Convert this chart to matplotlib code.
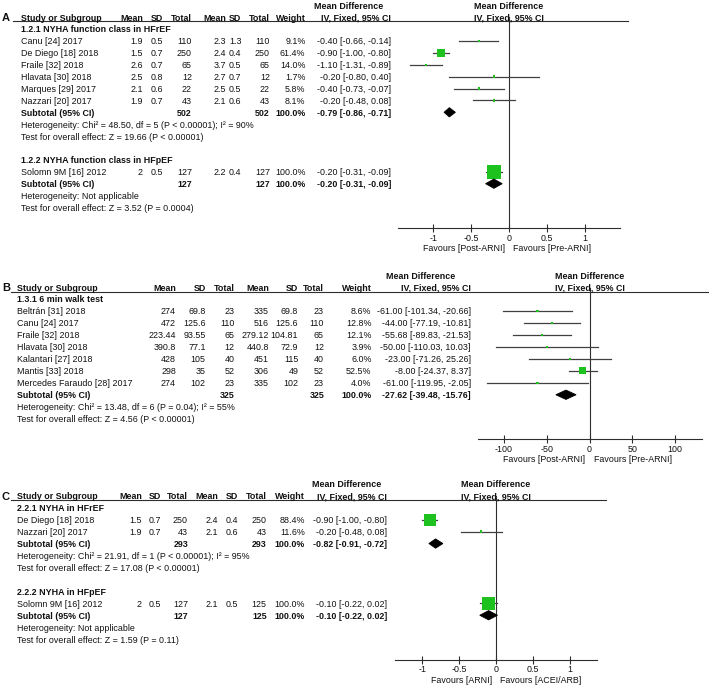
import matplotlib
matplotlib.use('Agg')
import matplotlib.pyplot as plt
from matplotlib.patches import Polygon
from matplotlib.transforms import blended_transform_factory

plt.rcParams['font.family'] = ['Liberation Sans', 'DejaVu Sans']

W, H = 709, 686
FS = 6.4
INK = '#111111'
LINE = '#2e2e2e'
CI_COL = '#404040'
GREEN = '#1ec21e'

# ---- panel A : NYHA class, post vs pre ARNI ----
a1_title = "1.2.1 NYHA function class in HFrEF"
a1_study = ["Canu [24] 2017", "De Diego [18] 2018", "Fraile [32] 2018",
            "Hlavata [30] 2018", "Marques [29] 2017", "Nazzari [20] 2017"]
a1_mean1 = [1.9, 1.5, 2.6, 2.5, 2.1, 1.9]
a1_sd1 = [0.5, 0.7, 0.7, 0.8, 0.6, 0.7]
a1_n1 = [110, 250, 65, 12, 22, 43]
a1_mean2 = [2.3, 2.4, 3.7, 2.7, 2.5, 2.1]
a1_sd2 = [1.3, 0.4, 0.5, 0.7, 0.5, 0.6]
a1_n2 = [110, 250, 65, 12, 22, 43]
a1_weight = [9.1, 61.4, 14.0, 1.7, 5.8, 8.1]
a1_md = [-0.40, -0.90, -1.10, -0.20, -0.40, -0.20]
a1_lo = [-0.66, -1.00, -1.31, -0.80, -0.73, -0.48]
a1_hi = [-0.14, -0.80, -0.89, 0.40, -0.07, 0.08]
a1_total = [-0.79, -0.86, -0.71]
a1_het = "Heterogeneity: Chi² = 48.50, df = 5 (P < 0.00001); I² = 90%"
a1_z = "Test for overall effect: Z = 19.66 (P < 0.00001)"

a2_title = "1.2.2 NYHA function class in HFpEF"
a2_study = ["Solomn 9M [16] 2012"]
a2_mean1 = [2]
a2_sd1 = [0.5]
a2_n1 = [127]
a2_mean2 = [2.2]
a2_sd2 = [0.4]
a2_n2 = [127]
a2_weight = [100.0]
a2_md = [-0.20]
a2_lo = [-0.31]
a2_hi = [-0.09]
a2_total = [-0.20, -0.31, -0.09]
a2_het = "Heterogeneity: Not applicable"
a2_z = "Test for overall effect: Z = 3.52 (P = 0.0004)"

# ---- panel B : 6 min walk test ----
b1_title = "1.3.1 6 min walk test"
b1_study = ["Beltrán [31] 2018", "Canu [24] 2017", "Fraile [32] 2018",
            "Hlavata [30] 2018", "Kalantari [27] 2018", "Mantis [33] 2018",
            "Mercedes Faraudo [28] 2017"]
b1_mean1 = [274, 472, 223.44, 390.8, 428, 298, 274]
b1_sd1 = [69.8, 125.6, 93.55, 77.1, 105, 35, 102]
b1_n1 = [23, 110, 65, 12, 40, 52, 23]
b1_mean2 = [335, 516, 279.12, 440.8, 451, 306, 335]
b1_sd2 = [69.8, 125.6, 104.81, 72.9, 115, 49, 102]
b1_n2 = [23, 110, 65, 12, 40, 52, 23]
b1_weight = [8.6, 12.8, 12.1, 3.9, 6.0, 52.5, 4.0]
b1_md = [-61.00, -44.00, -55.68, -50.00, -23.00, -8.00, -61.00]
b1_lo = [-101.34, -77.19, -89.83, -110.03, -71.26, -24.37, -119.95]
b1_hi = [-20.66, -10.81, -21.53, 10.03, 25.26, 8.37, -2.05]
b1_total = [-27.62, -39.48, -15.76]
b1_het = "Heterogeneity: Chi² = 13.48, df = 6 (P = 0.04); I² = 55%"
b1_z = "Test for overall effect: Z = 4.56 (P < 0.00001)"

# ---- panel C : NYHA, ARNI vs ACEI/ARB ----
c1_title = "2.2.1 NYHA in HFrEF"
c1_study = ["De Diego [18] 2018", "Nazzari [20] 2017"]
c1_mean1 = [1.5, 1.9]
c1_sd1 = [0.7, 0.7]
c1_n1 = [250, 43]
c1_mean2 = [2.4, 2.1]
c1_sd2 = [0.4, 0.6]
c1_n2 = [250, 43]
c1_weight = [88.4, 11.6]
c1_md = [-0.90, -0.20]
c1_lo = [-1.00, -0.48]
c1_hi = [-0.80, 0.08]
c1_total = [-0.82, -0.91, -0.72]
c1_het = "Heterogeneity: Chi² = 21.91, df = 1 (P < 0.00001); I² = 95%"
c1_z = "Test for overall effect: Z = 17.08 (P < 0.00001)"

c2_title = "2.2.2 NYHA in HFpEF"
c2_study = ["Solomn 9M [16] 2012"]
c2_mean1 = [2]
c2_sd1 = [0.5]
c2_n1 = [127]
c2_mean2 = [2.1]
c2_sd2 = [0.5]
c2_n2 = [125]
c2_weight = [100.0]
c2_md = [-0.10]
c2_lo = [-0.22]
c2_hi = [0.02]
c2_total = [-0.10, -0.22, 0.02]
c2_het = "Heterogeneity: Not applicable"
c2_z = "Test for overall effect: Z = 1.59 (P = 0.11)"

headers = ["Mean", "SD", "Total", "Mean", "SD", "Total", "Weight"]


def group(title, study, m1, s1, n1, m2, s2, n2, w, md, lo, hi, total, het, z):
    return dict(title=title, study=study, cols=[m1, s1, n1, m2, s2, n2], w=w,
                md=md, lo=lo, hi=hi, total=total, het=het, z=z)


grp_a = [group(a1_title, a1_study, a1_mean1, a1_sd1, a1_n1, a1_mean2, a1_sd2, a1_n2,
               a1_weight, a1_md, a1_lo, a1_hi, a1_total, a1_het, a1_z),
         group(a2_title, a2_study, a2_mean1, a2_sd1, a2_n1, a2_mean2, a2_sd2, a2_n2,
               a2_weight, a2_md, a2_lo, a2_hi, a2_total, a2_het, a2_z)]
grp_b = [group(b1_title, b1_study, b1_mean1, b1_sd1, b1_n1, b1_mean2, b1_sd2, b1_n2,
               b1_weight, b1_md, b1_lo, b1_hi, b1_total, b1_het, b1_z)]
grp_c = [group(c1_title, c1_study, c1_mean1, c1_sd1, c1_n1, c1_mean2, c1_sd2, c1_n2,
               c1_weight, c1_md, c1_lo, c1_hi, c1_total, c1_het, c1_z),
         group(c2_title, c2_study, c2_mean1, c2_sd1, c2_n1, c2_mean2, c2_sd2, c2_n2,
               c2_weight, c2_md, c2_lo, c2_hi, c2_total, c2_het, c2_z)]

# layout of each panel, in pixels of the 709x686 image
panels = [
    dict(letter='A', groups=grp_a, y0=29, dy=11.9, k_under=-0.68, k_axis=16.75,
         x_name=20.7, cols=[143, 163, 192, 226, 241.5, 270, 305.5], ci_x=391, md_head=349,
         line_x=(13, 628), ax_x=(398, 620), xlim=(-1.47, 1.47), ticks=[-1, -0.5, 0, 0.5, 1],
         fav=("Favours [Post-ARNI]", "Favours [Pre-ARNI]")),
    dict(letter='B', groups=grp_b, y0=299, dy=11.97, k_under=-0.61, k_axis=11.72,
         x_name=17.3, cols=[176, 205.7, 234.3, 269, 298.3, 324, 371.5], ci_x=471, md_head=421,
         line_x=(11, 708), ax_x=(478, 702), xlim=(-130.5, 131.5), ticks=[-100, -50, 0, 50, 100],
         fav=("Favours [Post-ARNI]", "Favours [Pre-ARNI]")),
    dict(letter='C', groups=grp_c, y0=507.7, dy=11.95, k_under=-0.64, k_axis=12.74,
         x_name=17.3, cols=[142, 161, 188, 218, 238, 266.7, 305], ci_x=387, md_head=347,
         line_x=(11, 606), ax_x=(395, 597), xlim=(-1.37, 1.37), ticks=[-1, -0.5, 0, 0.5, 1],
         fav=("Favours [ARNI]", "Favours [ACEI/ARB]")),
]

fig = plt.figure(figsize=(W / 100, H / 100), dpi=100)
tax = fig.add_axes([0, 0, 1, 1])
tax.set_xlim(0, W)
tax.set_ylim(H, 0)
tax.axis('off')


def txt(x, y, s, ha='left', bold=False, size=FS, transform=None):
    tax.text(x, y, s, ha=ha, va='center_baseline', fontsize=size, color=INK,
             fontweight='bold' if bold else 'normal',
             transform=transform if transform is not None else tax.transData)


def ci_str(md, lo, hi):
    return f"{md:.2f} [{lo:.2f}, {hi:.2f}]"


for p in panels:
    y0, dy = p['y0'], p['dy']

    def ry(k):
        return y0 + k * dy

    # table headers
    txt(2, ry(-1), p['letter'], bold=True, size=8)
    txt(p['x_name'], ry(-1), "Study or Subgroup", bold=True)
    for hx, hs in zip(p['cols'], headers):
        txt(hx, ry(-1), hs, ha='right', bold=True)
    txt(p['md_head'], ry(-2), "Mean Difference", ha='center', bold=True)
    txt(p['ci_x'], ry(-1), "IV, Fixed, 95% CI", ha='right', bold=True)
    tax.plot(p['line_x'], [ry(p['k_under'])] * 2, color=LINE, lw=0.8)

    # forest plot axes
    x_l, x_r = p['ax_x']
    y_t, y_b = ry(p['k_under']), ry(p['k_axis'])
    ax = fig.add_axes([x_l / W, 1 - y_b / H, (x_r - x_l) / W, (y_b - y_t) / H])
    ax.set_xlim(*p['xlim'])
    ax.set_ylim(p['k_axis'], p['k_under'])
    ax.patch.set_alpha(0)
    for side in ['top', 'left', 'right']:
        ax.spines[side].set_visible(False)
    ax.spines['bottom'].set_color(LINE)
    ax.spines['bottom'].set_linewidth(0.8)
    ax.set_yticks([])
    ax.set_xticks(p['ticks'])
    ax.set_xticklabels([f"{t:g}" for t in p['ticks']])
    ax.tick_params(axis='x', direction='inout', length=6, width=0.8, color=LINE,
                   labelsize=FS, labelcolor=INK, pad=1)
    ax.plot([0, 0], [p['k_axis'], p['k_under'] - 0.3], color=LINE, lw=0.8, clip_on=False)

    head_tr = blended_transform_factory(ax.transData, tax.transData)
    txt(0, ry(-2), "Mean Difference", ha='center', bold=True, transform=head_tr)
    txt(0, ry(-1), "IV, Fixed, 95% CI", ha='center', bold=True, transform=head_tr)

    fav_tr = blended_transform_factory(ax.transData, ax.transAxes)
    ax.annotate(p['fav'][0], xy=(0, 0), xycoords=fav_tr, xytext=(-3, -14), textcoords='offset points',
                ha='right', va='center_baseline', fontsize=FS, color=INK)
    ax.annotate(p['fav'][1], xy=(0, 0), xycoords=fav_tr, xytext=(3, -14), textcoords='offset points',
                ha='left', va='center_baseline', fontsize=FS, color=INK)

    k = 0
    for g in p['groups']:
        txt(p['x_name'], ry(k), g['title'], bold=True)
        for i, name in enumerate(g['study']):
            kk = k + 1 + i
            txt(p['x_name'], ry(kk), name)
            for hx, col in zip(p['cols'], g['cols']):
                txt(hx, ry(kk), f"{col[i]:g}", ha='right')
            txt(p['cols'][6], ry(kk), f"{g['w'][i]:.1f}%", ha='right')
            txt(p['ci_x'], ry(kk), ci_str(g['md'][i], g['lo'][i], g['hi'][i]), ha='right')
            ax.plot([g['lo'][i], g['hi'][i]], [kk, kk], color=CI_COL, lw=0.9, zorder=2)
            side_px = max(2.3, 13.5 * g['w'][i] / 100)
            ax.scatter([g['md'][i]], [kk], marker='s', s=(side_px * 0.72) ** 2,
                       color=GREEN, edgecolors='none', zorder=3)
        ks = k + 1 + len(g['study'])
        txt(p['x_name'], ry(ks), "Subtotal (95% CI)", bold=True)
        txt(p['cols'][2], ry(ks), f"{sum(g['cols'][2])}", ha='right', bold=True)
        txt(p['cols'][5], ry(ks), f"{sum(g['cols'][5])}", ha='right', bold=True)
        txt(p['cols'][6], ry(ks), "100.0%", ha='right', bold=True)
        md, lo, hi = g['total']
        txt(p['ci_x'], ry(ks), ci_str(md, lo, hi), ha='right', bold=True)
        ax.add_patch(Polygon([(lo, ks), (md, ks - 0.39), (hi, ks), (md, ks + 0.39)],
                             closed=True, facecolor='black', edgecolor='black', lw=0.6, zorder=3))
        txt(p['x_name'], ry(ks + 1), g['het'])
        txt(p['x_name'], ry(ks + 2), g['z'])
        k = ks + 4

fig.savefig('out.png', dpi=100)
